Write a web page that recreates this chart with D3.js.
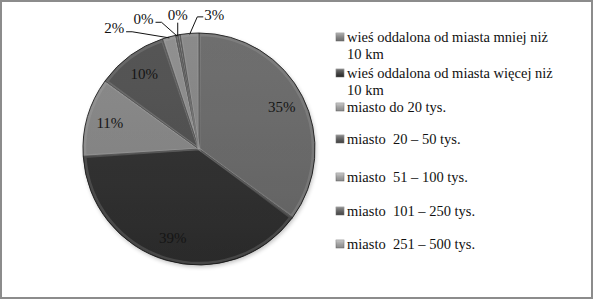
<!DOCTYPE html>
<head>
  <meta charset="utf-8">
  <script src="https://cdn.jsdelivr.net/npm/d3@7/dist/d3.min.js"></script>
  <style>
    body { margin:0; background:#fff; }
  </style>
</head>
<body>
  <script>
    // categories (last one is cut off in the legend of the original)
    var categories = [
      "wieś oddalona od miasta mniej niż 10 km",
      "wieś oddalona od miasta więcej niż 10 km",
      "miasto do 20 tys.",
      "miasto  20 – 50 tys.",
      "miasto  51 – 100 tys.",
      "miasto  101 – 250 tys.",
      "miasto  251 – 500 tys.",
      "miasto powyżej 500 tys."
    ];
    // share of respondents, order as drawn clockwise from 12 o'clock
    var sliceOrder = [0, 1, 2, 3, 4, 5, 6, 7];
    var values = [35.1, 38.9, 11.0, 9.9, 1.9, 0.3, 0.3, 2.6];
    var fills = ["#939393", "#404040", "#bcbcbc", "#6e6e6e", "#c4c4c4", "#8a8a8a", "#a4a4a4", "#bcbcbc"];
    var legendFills = ["#8a8a8a", "#333333", "#b0b0b0", "#555555", "#b0b0b0", "#5a5a5a", "#b0b0b0"];
    var legendShown = 7;

    var FONT = "'Liberation Serif', 'Times New Roman', 'DejaVu Serif', serif";
    var width = 593, height = 299;
    var cx = 199, cy = 149, R = 116;

    var svg = d3.select("body").append("svg")
      .attr("width", width)
      .attr("height", height)
      .attr("font-family", FONT);

    var defs = svg.append("defs");
    var shade = defs.append("radialGradient").attr("id", "shade")
      .attr("gradientUnits", "userSpaceOnUse")
      .attr("cx", cx).attr("cy", cy).attr("r", R);
    shade.append("stop").attr("offset", "91%").attr("stop-color", "#000").attr("stop-opacity", 0.0);
    shade.append("stop").attr("offset", "100%").attr("stop-color", "#000").attr("stop-opacity", 0.28);

    var vert = defs.append("linearGradient").attr("id", "vert")
      .attr("x1", 0).attr("y1", 0).attr("x2", 0).attr("y2", 1);
    vert.append("stop").attr("offset", "0%").attr("stop-color", "#fff").attr("stop-opacity", 0.06);
    vert.append("stop").attr("offset", "100%").attr("stop-color", "#000").attr("stop-opacity", 0.1);

    var lg = defs.append("linearGradient").attr("id", "lgMark")
      .attr("x1", 0).attr("y1", 0).attr("x2", 0).attr("y2", 1);
    lg.append("stop").attr("offset", "0%").attr("stop-color", "#fff").attr("stop-opacity", 0.35);
    lg.append("stop").attr("offset", "100%").attr("stop-color", "#000").attr("stop-opacity", 0.2);

    var blur = defs.append("filter").attr("id", "sh").attr("x", "-20%").attr("y", "-20%").attr("width", "140%").attr("height", "140%");
    blur.append("feGaussianBlur").attr("stdDeviation", 2);

    // frame
    svg.append("rect")
      .attr("x", 1).attr("y", 1)
      .attr("width", width - 2).attr("height", height - 2)
      .attr("fill", "none").attr("stroke", "#8c8c8c").attr("stroke-width", 2);

    var pie = d3.pie().sort(null).value(function(d) { return values[d]; });
    var arcs = pie(sliceOrder);
    var arc = d3.arc().innerRadius(0).outerRadius(R);
    var total = d3.sum(values);

    var g = svg.append("g").attr("transform", "translate(" + cx + "," + cy + ")");

    // soft shadow
    g.append("circle").attr("cx", 1).attr("cy", 2).attr("r", R)
      .attr("fill", "#000").attr("opacity", 0.25).attr("filter", "url(#sh)");

    g.selectAll("path.slice")
      .data(arcs)
      .enter()
      .append("path")
      .attr("class", "slice")
      .attr("d", arc)
      .attr("fill", function(d) { return fills[d.data]; })
      .attr("stroke", "#1e1e1e")
      .attr("stroke-width", 0.9);

    g.append("circle").attr("r", R).attr("fill", "url(#vert)");

    // bevel highlight along inner edges
    g.selectAll("path.bevel")
      .data(arcs)
      .enter()
      .append("path")
      .attr("class", "bevel")
      .attr("d", d3.arc().innerRadius(0).outerRadius(R - 2).padAngle(0.012))
      .attr("fill", "none")
      .attr("stroke", "#fff")
      .attr("stroke-opacity", 0.2)
      .attr("stroke-width", 2.5);

    g.append("circle").attr("r", R).attr("fill", "url(#shade)");

    function pct(d) { return Math.round(values[d.data] / total * 100) + "%"; }

    // inside labels for big slices
    var labelArc = d3.arc().innerRadius(R * 0.8).outerRadius(R * 0.8);
    g.selectAll("text.in")
      .data(arcs.filter(function(d) { return values[d.data] >= 5; }))
      .enter()
      .append("text")
      .attr("class", "in")
      .attr("transform", function(d) { return "translate(" + labelArc.centroid(d) + ")"; })
      .attr("text-anchor", "middle")
      .attr("dy", "0.35em")
      .attr("font-size", 15)
      .attr("fill", "#151515")
      .text(pct);

    // outside labels for small slices, fanned out above the pie
    var small = arcs.filter(function(d) { return values[d.data] < 5; });
    var outAngles = [-35, -23, -9, 6.5];   // degrees from 12 o'clock
    var outDist = [148, 142, 136, 135];
    small.forEach(function(d, i) {
      var mid = (d.startAngle + d.endAngle) / 2;
      var a = outAngles[i] * Math.PI / 180;
      var lx = Math.sin(a) * outDist[i], ly = -Math.cos(a) * outDist[i];
      var ex = Math.sin(mid) * (R - 1), ey = -Math.cos(mid) * (R - 1);
      var left = lx < 0;
      var tw = 22;
      var sx = left ? lx + tw / 2 + 1 : lx - tw / 2 - 1;
      var pts;
      if (i === 2) {
        pts = [[lx, ly + 8], [lx, ey]];
      } else if (left) {
        pts = [[sx, ly + 4], [sx + 6, ly + 4], [ex, ey]];
      } else {
        pts = [[sx + 1, ly + 2], [sx - 5, ly + 2], [ex, ey]];
      }
      g.append("path")
        .attr("d", d3.line()(pts))
        .attr("fill", "none")
        .attr("stroke", "#111")
        .attr("stroke-width", 1);
      g.append("text")
        .attr("x", lx).attr("y", ly)
        .attr("text-anchor", "middle")
        .attr("dy", "0.35em")
        .attr("font-size", 15)
        .attr("fill", "#111")
        .text(pct(d));
    });

    // legend
    var legX = 336, legY = [37, 73, 107, 139, 177, 211, 244];
    var maxW = 212;
    var leg = svg.append("g");
    categories.slice(0, legendShown).forEach(function(name, i) {
      leg.append("rect")
        .attr("x", legX).attr("y", legY[i] - 4)
        .attr("width", 8).attr("height", 8)
        .attr("fill", legendFills[i]).attr("stroke", "#777").attr("stroke-width", 0.6);
      leg.append("rect")
        .attr("x", legX).attr("y", legY[i] - 4)
        .attr("width", 8).attr("height", 8)
        .attr("fill", "url(#lgMark)");
      var t = leg.append("text")
        .attr("x", legX + 11).attr("y", legY[i])
        .attr("dy", "0.35em")
        .attr("font-size", 14.5)
        .attr("fill", "#111")
        .attr("xml:space", "preserve");
      var words = name.split(" "), line = [];
      var ts = t.append("tspan").attr("x", legX + 11);
      words.forEach(function(w) {
        line.push(w);
        ts.text(line.join(" "));
        if (ts.node().getComputedTextLength() > maxW && line.length > 1) {
          line.pop();
          ts.text(line.join(" "));
          line = [w];
          ts = t.append("tspan").attr("x", legX + 11).attr("dy", 17).text(w);
        }
      });
    });
  </script>
</body>
